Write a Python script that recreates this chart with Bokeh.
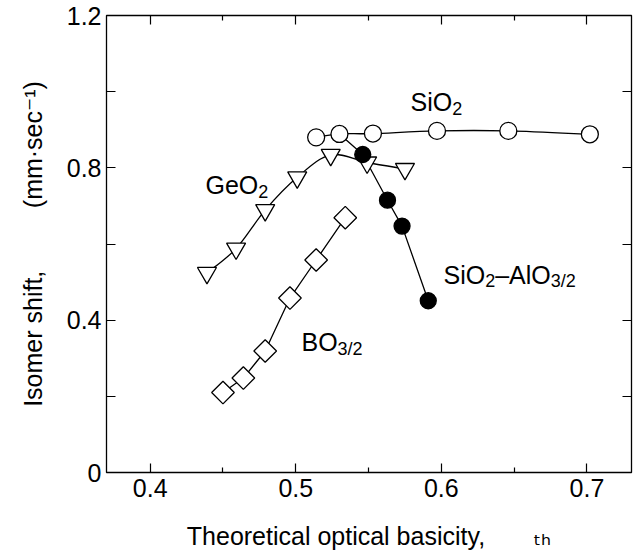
import numpy as np
from bokeh.plotting import figure
from bokeh.models import (Label, LinearAxis, FixedTicker, Range1d, ColumnDataSource,
                          CustomLabelingPolicy)
from bokeh.embed import file_html
from bokeh.resources import INLINE

# ---- data ----
sio2_x = [0.514, 0.530, 0.553, 0.597, 0.646, 0.702]
sio2_y = [0.880, 0.889, 0.890, 0.897, 0.897, 0.888]

geo2_x = [0.439, 0.459, 0.479, 0.501, 0.524, 0.549, 0.575]
geo2_y = [0.524, 0.588, 0.689, 0.775, 0.834, 0.814, 0.797]

sial_x = [0.546, 0.563, 0.573, 0.591]
sial_y = [0.835, 0.715, 0.647, 0.451]

bo_x = [0.450, 0.464, 0.479, 0.496, 0.514, 0.534]
bo_y = [0.210, 0.248, 0.319, 0.458, 0.558, 0.669]

x_ticks = [0.4, 0.5, 0.6, 0.7]
x_minor = [0.45, 0.55, 0.65]
y_ticks = [0, 0.4, 0.8, 1.2]
y_minor = [0.2, 0.6, 1.0]

x_title = "Theoretical optical basicity," + "\u00a0" * 7 + "\u209c\u2095"
y_title = "Isomer shift," + "\u00a0" * 9 + "(mm\u00b7sec\u207b\u00b9)"

FONT = "Liberation Sans"

# frame geometry (pixels)
L, R, T, B = 106, 631, 15, 473
X0, X1, Y0, Y1 = 0.37, 0.7306, 0.0, 1.2


def X(px):
    return X0 + (px - L) / (R - L) * (X1 - X0)


def Y(py):
    return Y0 + (B - py) / (B - T) * (Y1 - Y0)


p = figure(width=642, height=552, x_range=Range1d(X0, X1), y_range=Range1d(Y0, Y1),
           output_backend="svg", toolbar_location=None,
           min_border_left=L, min_border_right=642 - R, min_border_top=T,
           min_border_bottom=552 - B)
p.grid.visible = False
p.outline_line_color = "black"
p.outline_line_width = 1.3
p.background_fill_color = "white"
p.border_fill_color = "white"

hide_labels = CustomLabelingPolicy(
    code="for (const i of [...indices]) indices.unset(i); return indices")


def style_axis(ax, ticks, minor, labels=True, standoff=6):
    ax.ticker = FixedTicker(ticks=ticks, minor_ticks=minor)
    ax.axis_line_color = None
    ax.major_tick_in = 9
    ax.major_tick_out = 0
    ax.minor_tick_in = 5
    ax.minor_tick_out = 0
    ax.major_tick_line_width = 1.2
    ax.minor_tick_line_width = 1.2
    ax.major_tick_line_color = "black"
    ax.minor_tick_line_color = "black"
    ax.major_label_text_font = FONT
    ax.major_label_text_font_size = "25px"
    ax.major_label_text_color = "black"
    ax.major_label_standoff = standoff
    ax.axis_label_text_font = FONT + ", DejaVu Sans"
    ax.axis_label_text_font_size = "25px"
    ax.axis_label_text_font_style = "normal"
    ax.axis_label_text_color = "black"
    if not labels:
        ax.major_label_policy = hide_labels
        ax.major_label_text_font_size = "1px"
        ax.major_label_standoff = 0


style_axis(p.xaxis[0], x_ticks, x_minor, standoff=6)
style_axis(p.yaxis[0], y_ticks, y_minor, standoff=5)
p.yaxis[0].minor_tick_in = 9
p.yaxis[0].major_label_overrides = {0: "0"}
p.xaxis[0].axis_label = x_title
p.xaxis[0].axis_label_standoff = 22
p.yaxis[0].axis_label = y_title
p.yaxis[0].axis_label_standoff = 17

top = LinearAxis()
style_axis(top, x_ticks, x_minor, labels=False)
p.add_layout(top, "above")
right = LinearAxis()
style_axis(right, y_ticks, y_minor, labels=False)
right.minor_tick_in = 9
p.add_layout(right, "right")


def smooth(xs, ys):
    # Catmull-Rom -> cubic bezier segments through the data points
    n = len(xs)
    P = list(zip(xs, ys))
    out = dict(x0=[], y0=[], x1=[], y1=[], cx0=[], cy0=[], cx1=[], cy1=[])
    for i in range(n - 1):
        p0 = P[i - 1] if i > 0 else P[i]
        p1 = P[i]
        p2 = P[i + 1]
        p3 = P[i + 2] if i + 2 < n else P[i + 1]
        out["x0"].append(p1[0]); out["y0"].append(p1[1])
        out["x1"].append(p2[0]); out["y1"].append(p2[1])
        out["cx0"].append(p1[0] + (p2[0] - p0[0]) / 6)
        out["cy0"].append(p1[1] + (p2[1] - p0[1]) / 6)
        out["cx1"].append(p2[0] - (p3[0] - p1[0]) / 6)
        out["cy1"].append(p2[1] - (p3[1] - p1[1]) / 6)
    return ColumnDataSource(out)


LW = 1.3
p.bezier(x0="x0", y0="y0", x1="x1", y1="y1", cx0="cx0", cy0="cy0", cx1="cx1", cy1="cy1",
         source=smooth(sio2_x, sio2_y), line_color="black", line_width=LW)
p.bezier(x0="x0", y0="y0", x1="x1", y1="y1", cx0="cx0", cy0="cy0", cx1="cx1", cy1="cy1",
         source=smooth(geo2_x, geo2_y), line_color="black", line_width=LW)
p.line([sio2_x[1]] + sial_x, [sio2_y[1]] + sial_y, line_color="black", line_width=LW)
p.line(bo_x, bo_y, line_color="black", line_width=LW)

p.scatter(bo_x, bo_y, marker="square", angle=np.pi / 4, size=16,
          fill_color="white", line_color="black", line_width=LW)
p.scatter(geo2_x, geo2_y, marker="inverted_triangle", size=19,
          fill_color="white", line_color="black", line_width=LW)
p.scatter(sio2_x, sio2_y, marker="circle", size=17,
          fill_color="white", line_color="black", line_width=LW)
p.scatter(sial_x, sial_y, marker="circle", size=16,
          fill_color="black", line_color="black", line_width=LW)


def lab(text, px, py, size):
    p.add_layout(Label(x=X(px), y=Y(py), text=text, text_font=FONT,
                       text_font_size=f"{size}px", text_color="black",
                       text_align="left", text_baseline="alphabetic"))


# series annotations
lab("SiO", 410, 102, 25)
lab("2", 451.7, 108, 18)

lab("GeO", 205, 185, 25)
lab("2", 257.8, 191, 18)

lab("SiO", 443, 275, 25)
lab("2", 484.7, 281, 18)
lab("\u2013AlO", 494.7, 275, 25)
lab("3/2", 550.3, 281, 18)

lab("BO", 301, 342, 25)
lab("3/2", 337.1, 349, 18)

open("out.html", "w").write(file_html(p, INLINE))
